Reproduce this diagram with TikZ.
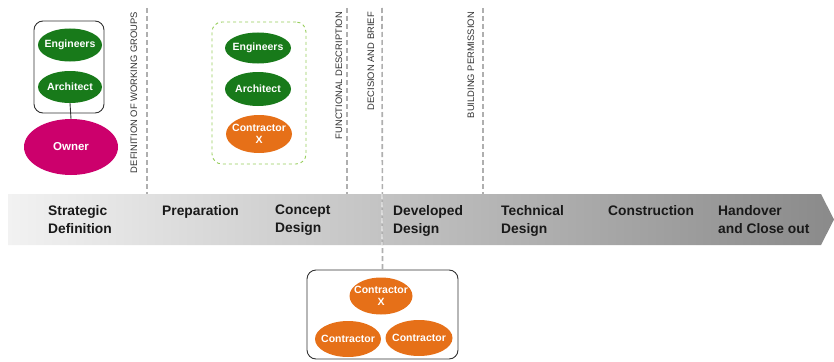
\documentclass[tikz,border=0pt]{standalone}
\usepackage{fontspec}
\setmainfont{Liberation Sans}
\usetikzlibrary{shapes.geometric}
\definecolor{dgreen}{RGB}{24,122,26}
\definecolor{magen}{RGB}{204,0,108}
\definecolor{orng}{RGB}{230,112,24}
\definecolor{lgreen}{RGB}{150,205,90}
\definecolor{dashgray}{RGB}{175,175,175}
\definecolor{bandL}{RGB}{242,242,242}
\definecolor{bandR}{RGB}{138,138,138}
\tikzset{
  ell/.style={ellipse, inner xsep=-6pt, inner ysep=-2pt, text=white, font=\fontsize{10.5}{12}\selectfont\bfseries, align=center},
  greenell/.style={ell, fill=dgreen},
  orangeell/.style={ell, fill=orng},
  grpbox/.style={draw=black!80, line width=0.9pt, rounded corners=9pt, inner sep=0pt},
  milestone/.style={draw=dashgray, line width=1.6pt, dash pattern=on 5pt off 3pt},
  msl/.style={rotate=90, anchor=east, inner sep=0pt, text=black!80, font=\fontsize{9.4}{10}\selectfont},
  phase/.style={anchor=north west, inner sep=0pt, align=left, text=black!90, font=\fontsize{13.8}{18}\selectfont\bfseries}
}
\begin{document}
\begin{tikzpicture}[x=1pt,y=-1pt]
\useasboundingbox (0,0) rectangle (834,361);
% milestone lines
\coordinate (m1t) at (147,8);  \coordinate (m1b) at (147,196);
\coordinate (m2t) at (347,8);  \coordinate (m2b) at (347,196);
\coordinate (m3t) at (382,8);
\coordinate (m4t) at (483,8);  \coordinate (m4b) at (483,196);
\draw[milestone] (m1t) -- (m1b);
\draw[milestone] (m2t) -- (m2b);
\draw[milestone] (m4t) -- (m4b);
\node[msl] (l1) at (134,12) {DEFINITION OF WORKING GROUPS};
\node[msl] (l2) at (339,12) {FUNCTIONAL DESCRIPTION};
\node[msl] (l3) at (371,12) {DECISION AND BRIEF};
\node[msl] (l4) at (471,12) {BUILDING PERMISSION};
% band
\shade[left color=bandL, right color=bandR] (8,194) -- (821,194) -- (834,219.5) -- (821,245) -- (8,245) -- cycle;
% bottom group
\node[grpbox, minimum width=151pt, minimum height=89pt] (box3) at (382.5,314.5) {};
\draw[milestone] (m3t) -- (box3.north);
\draw[draw=white, opacity=0.45, line width=1.6pt, dash pattern=on 5pt off 3pt] (382,194) -- (382,245);
\node[orangeell, minimum width=63pt, minimum height=37pt] (cx3) at (381,296) {Contractor\\X};
\node[orangeell, minimum width=66pt, minimum height=36pt] (c4) at (348,339) {Contractor};
\node[orangeell, minimum width=67pt, minimum height=36pt] (c5) at (419,338) {Contractor};
% phases
\node[phase] (p1) at (48,205) {Strategic\\Definition};
\node[phase] (p2) at (162,205) {Preparation};
\node[phase] (p3) at (275,205) {Concept\\Design};
\node[phase] (p4) at (393,205) {Developed\\Design};
\node[phase] (p5) at (501,205) {Technical\\Design};
\node[phase] (p6) at (608,205) {Construction};
\node[phase] (p7) at (718,205) {Handover\\and Close out};
% first group
\node[grpbox, minimum width=70pt, minimum height=92pt] (box1) at (69,67) {};
\node[greenell, minimum width=64pt, minimum height=33pt] (eng1) at (70,45) {Engineers};
\node[greenell, minimum width=64pt, minimum height=32pt] (arc1) at (70,87) {Architect};
\node[ell, fill=magen, minimum width=94pt, minimum height=56pt, font=\fontsize{11.5}{12}\selectfont\bfseries] (owner) at (71,147) {Owner};
\draw[black!80, line width=0.9pt] (arc1.south) -- (owner.north);
% second group
\node[draw=lgreen, line width=0.9pt, dashed, rounded corners=10pt, minimum width=94pt, minimum height=142pt, inner sep=0pt] (box2) at (259,93) {};
\node[greenell, minimum width=66pt, minimum height=31pt] (eng2) at (258,48) {Engineers};
\node[greenell, minimum width=66pt, minimum height=34pt] (arc2) at (258,89) {Architect};
\node[orangeell, minimum width=66pt, minimum height=38pt] (cx2) at (259,134) {Contractor\\X};
\end{tikzpicture}
\end{document}
